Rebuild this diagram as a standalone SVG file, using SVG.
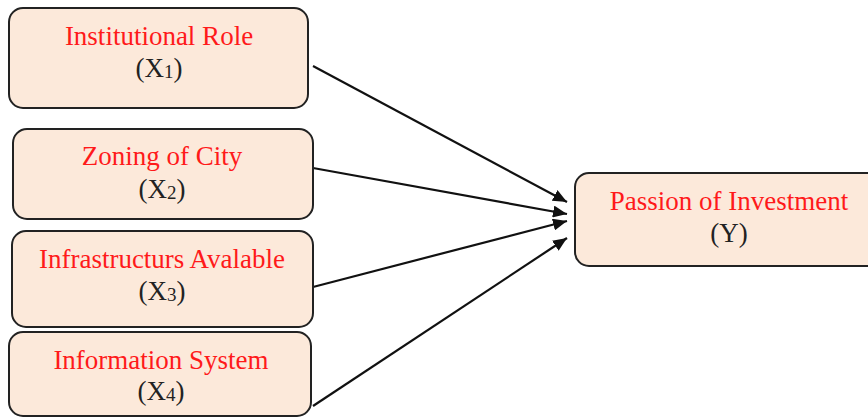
<svg xmlns="http://www.w3.org/2000/svg" width="868" height="418" viewBox="0 0 868 418">
<style>
.box{fill:#FCE9DA;stroke:#222;stroke-width:2}
.t{font-family:"Liberation Serif","Times New Roman",serif;font-size:27px;text-anchor:middle}
.r{fill:#FF1A1A}
.k{fill:#222}
.sub{font-size:19px}
.c{stroke:#111;stroke-width:2.2;fill:none;marker-end:url(#ah)}
</style>
<defs>
<marker id="ah" viewBox="0 0 14 12" refX="14" refY="6" markerWidth="14" markerHeight="12" markerUnits="userSpaceOnUse" orient="auto">
<path d="M0,0 L14,6 L0,12 z" fill="#111"/>
</marker>
</defs>
<rect width="868" height="418" fill="#fff"/>
<g id="connectors">
<line class="c" x1="313" y1="66" x2="567" y2="202"/>
<line class="c" x1="313" y1="168" x2="567" y2="214"/>
<line class="c" x1="313" y1="287" x2="567" y2="221"/>
<line class="c" x1="313" y1="406" x2="567" y2="238"/>
</g>
<g id="x1">
<rect class="box" x="9" y="8" width="299" height="100" rx="14"/>
<text class="t r" x="159" y="45">Institutional Role</text>
<text class="t k" x="159" y="77">(X<tspan class="sub" dy="1">1</tspan><tspan dy="-1">)</tspan></text>
</g>
<g id="x2">
<rect class="box" x="13" y="129" width="300" height="90" rx="14"/>
<text class="t r" x="162" y="165">Zoning of City</text>
<text class="t k" x="162" y="198">(X<tspan class="sub" dy="1">2</tspan><tspan dy="-1">)</tspan></text>
</g>
<g id="x3">
<rect class="box" x="12" y="231" width="301" height="96" rx="14"/>
<text class="t r" x="162" y="268">Infrastructurs Avalable</text>
<text class="t k" x="162" y="300">(X<tspan class="sub" dy="1">3</tspan><tspan dy="-1">)</tspan></text>
</g>
<g id="x4">
<rect class="box" x="9" y="332" width="302" height="84" rx="14"/>
<text class="t r" x="161" y="369">Information System</text>
<text class="t k" x="161" y="400">(X<tspan class="sub" dy="1">4</tspan><tspan dy="-1">)</tspan></text>
</g>
<g id="y">
<rect class="box" x="575" y="173" width="308" height="93" rx="14"/>
<text class="t r" x="729" y="210">Passion of Investment</text>
<text class="t k" x="729" y="242">(Y)</text>
</g>
</svg>
